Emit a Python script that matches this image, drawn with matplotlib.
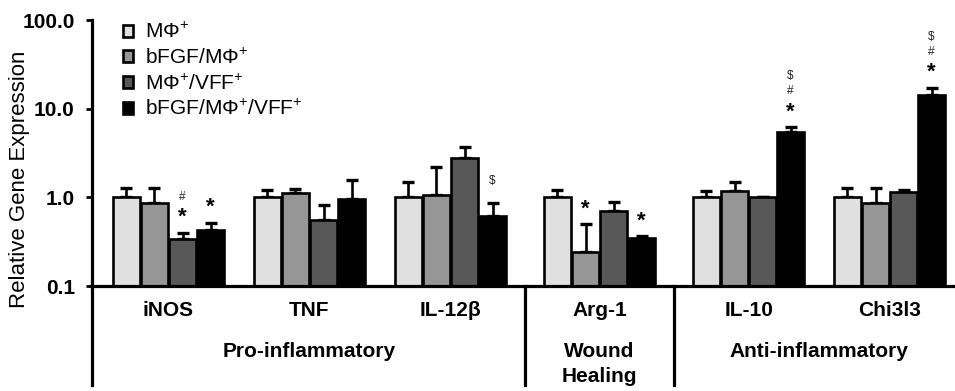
import matplotlib
matplotlib.use("Agg")
import matplotlib.pyplot as plt
import matplotlib.transforms as mtransforms
from matplotlib.lines import Line2D
import numpy as np

plt.rcParams['font.family'] = ['Liberation Sans', 'DejaVu Sans']
plt.rcParams['mathtext.fontset'] = 'custom'
plt.rcParams['mathtext.rm'] = 'Liberation Sans'
plt.rcParams['mathtext.it'] = 'Liberation Sans:italic'
plt.rcParams['mathtext.bf'] = 'Liberation Sans:bold'

# ---------------- data ----------------
genes = ['iNOS', 'TNF', 'IL-12β', 'Arg-1', 'IL-10', 'Chi3l3']
series_names = ['MΦ$^{+}$', 'bFGF/MΦ$^{+}$', 'MΦ$^{+}$/VFF$^{+}$', 'bFGF/MΦ$^{+}$/VFF$^{+}$']

mp_vals      = [1.00, 1.00, 1.00, 1.00, 1.00, 1.00]
mp_top       = [1.28, 1.20, 1.49, 1.20, 1.17, 1.26]
bfgf_vals    = [0.86, 1.12, 1.07, 0.243, 1.18, 0.87]
bfgf_top     = [1.29, 1.25, 2.20, 0.50, 1.49, 1.26]
vff_vals     = [0.335, 0.55, 2.75, 0.71, 1.01, 1.14]
vff_top      = [0.40, 0.83, 3.70, 0.88, 1.01, 1.21]
bfgfvff_vals = [0.43, 0.95, 0.62, 0.35, 5.42, 14.3]
bfgfvff_top  = [0.52, 1.58, 0.86, 0.365, 6.17, 17.3]

values = [mp_vals, bfgf_vals, vff_vals, bfgfvff_vals]
tops = [mp_top, bfgf_top, vff_top, bfgfvff_top]

# sections: (label, first gene index, end index)
sections = [('Pro-inflammatory', 0, 3), ('Wound\nHealing', 3, 4), ('Anti-inflammatory', 4, 6)]

# significance marks: (gene index, series index, symbols bottom->top)
marks = [(0, 2, ['*', '#']), (0, 3, ['*']), (2, 3, ['$']),
         (3, 1, ['*']), (3, 3, ['*']),
         (4, 3, ['*', '#', '$']), (5, 3, ['*', '#', '$'])]

colors = ['#e0e0e0', '#969696', '#585858', '#000000']

# ---------------- layout ----------------
W, H = 955, 391
fig = plt.figure(figsize=(W / 100, H / 100), dpi=100)
ax = fig.add_axes([91.5 / W, 105 / H, (W - 91.5) / W, 266 / H])

section_gap = 0.057
centers = []
for i in range(len(genes)):
    n_cross = sum(1 for _, s, e in sections[1:] if i >= s)
    centers.append(i + n_cross * section_gap)
centers = np.array(centers)

step = 0.199
bw = 0.188
offsets = (np.arange(4) - 1.5) * step

for k in range(4):
    v = np.array(values[k])
    t = np.array(tops[k])
    x = centers + offsets[k]
    ax.bar(x, v, width=bw, color=colors[k], edgecolor='black', linewidth=1.9,
           label=series_names[k], zorder=2)
    ax.errorbar(x, v, yerr=[np.zeros_like(v), t - v], fmt='none', ecolor='black',
                elinewidth=1.9, capsize=4, capthick=2.4, zorder=1)

ax.set_yscale('log')
ax.set_ylim(0.1, 100)
ax.set_xlim(centers[0] - 0.546, centers[0] + 5.578)
ax.set_yticks([0.1, 1, 10, 100])
ax.set_yticklabels(['%.1f' % v for v in [0.1, 1, 10, 100]], fontweight='bold', fontsize=15)
ax.yaxis.set_minor_locator(matplotlib.ticker.NullLocator())
ax.tick_params(axis='y', direction='out', length=4, width=2, pad=8)

ax.set_xticks(centers)
ax.set_xticklabels(genes, fontweight='bold', fontsize=15)
ax.tick_params(axis='x', length=0, pad=11)

for s in ['top', 'right']:
    ax.spines[s].set_visible(False)
ax.spines['left'].set_linewidth(2.3)
ax.spines['bottom'].set_linewidth(2.3)

# extension of left spine and section separators below the axis
ext = -(385 - 286) / 266
ax.add_line(Line2D([0, 0], [0, ext], transform=ax.transAxes, color='black',
                   lw=2.3, clip_on=False))
trans = mtransforms.blended_transform_factory(ax.transData, ax.transAxes)
for _, s, e in sections[1:]:
    xsep = (centers[s - 1] + centers[s]) / 2
    ax.add_line(Line2D([xsep, xsep], [0, ext], transform=trans, color='black',
                       lw=2.3, clip_on=False))

for (label, s, e) in sections:
    xc = np.mean(centers[s:e])
    for j, line in enumerate(label.split('\n')):
        ybase = (286 - 357 - 25 * j) / 266
        ax.text(xc, ybase, line, transform=trans, ha='center', va='baseline',
                fontweight='bold', fontsize=15)

# significance symbols
for gi, si, syms in marks:
    x = centers[gi] + offsets[si]
    ytop = tops[si][gi]
    dy = 15
    for j, sym in enumerate(syms):
        if sym == '*':
            ax.annotate(sym, (x, ytop), xytext=(0, dy), textcoords='offset pixels',
                        ha='center', va='center', fontsize=16, fontweight='bold')
            dy_next = 14
        else:
            ax.annotate(sym, (x, ytop), xytext=(0, dy + 7), textcoords='offset pixels',
                        ha='center', va='center', fontsize=8.5, color='#222222')
            dy_next = 15
        dy += dy_next if j == 0 else 15

ax.legend(loc='upper left', bbox_to_anchor=(123 / W, 1 - 22 / H),
          bbox_transform=fig.transFigure, frameon=False, fontsize=15,
          handlelength=0.5, handleheight=0.5, handletextpad=0.55,
          labelspacing=0.27, borderpad=0, borderaxespad=0)

fig.text(20 / W, 1 - 179 / H, 'Relative Gene Expression', rotation=90,
         ha='center', va='center', fontsize=16)

fig.savefig('out.png', dpi=100)
